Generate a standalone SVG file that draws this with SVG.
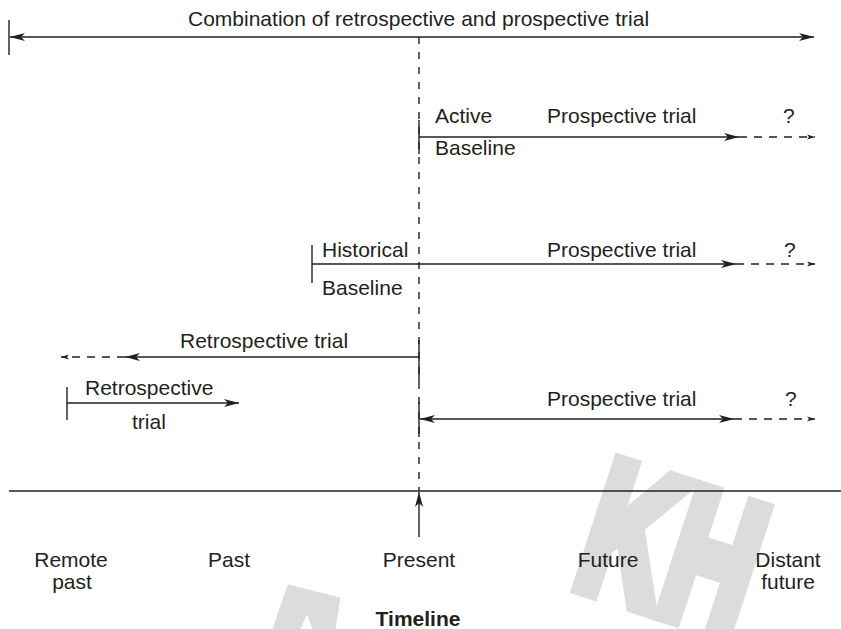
<svg xmlns="http://www.w3.org/2000/svg" width="841" height="629" viewBox="0 0 841 629">
<style>
.t{font-family:"Liberation Sans",Arial,Helvetica,sans-serif;font-size:21px;fill:#231f20}
.c{text-anchor:middle}
.b{font-weight:bold}
.ln{stroke:#231f20;stroke-width:1.4;fill:none}
.ds{stroke-dasharray:8 7}
.vd{stroke-dasharray:7 8}
.wm{fill:#dcdcdc;stroke:#dcdcdc;stroke-linejoin:miter}
</style>
<defs>
<marker id="ah" viewBox="0 0 15 10" refX="15" refY="5" markerWidth="15" markerHeight="10" markerUnits="userSpaceOnUse" orient="auto-start-reverse">
<path d="M0,1 L15,5 L0,9 L4,5 z" fill="#231f20"/>
</marker>
<marker id="ahs" viewBox="0 0 8 6" refX="8" refY="3" markerWidth="8" markerHeight="6" markerUnits="userSpaceOnUse" orient="auto">
<path d="M0,0.5 L8,3 L0,5.5 L2,3 z" fill="#231f20"/>
</marker>
</defs>
<rect width="841" height="629" fill="#ffffff"/>
<g id="watermark">
<text class="wm" transform="translate(570,584) rotate(18) scale(0.63,1)" font-family="Liberation Sans,Arial,sans-serif" font-weight="bold" font-size="190" stroke-width="17">KH</text>
<polygon class="wm" points="288,585 340,598 335,629 313,629 307,613 300,629 273,629"/>
</g>
<g id="connectors">
<line class="ln" x1="9" y1="20" x2="9" y2="55"/>
<line class="ln" x1="10" y1="37" x2="814" y2="37" marker-start="url(#ah)" marker-end="url(#ah)"/>
<line class="ln vd" x1="419" y1="37" x2="419" y2="491"/>
<line class="ln" x1="419" y1="120" x2="419" y2="154"/>
<line class="ln" x1="419" y1="137" x2="739" y2="137" marker-end="url(#ah)"/>
<line class="ln ds" x1="739" y1="137" x2="815" y2="137" marker-end="url(#ahs)"/>
<line class="ln" x1="312" y1="245" x2="312" y2="283"/>
<line class="ln" x1="312" y1="264" x2="736" y2="264" marker-end="url(#ah)"/>
<line class="ln ds" x1="736" y1="264" x2="815" y2="264" marker-end="url(#ahs)"/>
<line class="ln" x1="419" y1="340" x2="419" y2="382"/>
<line class="ln" x1="419" y1="357" x2="125" y2="357" marker-end="url(#ah)"/>
<line class="ln ds" x1="125" y1="357" x2="61" y2="357" marker-end="url(#ahs)"/>
<line class="ln" x1="67" y1="387" x2="67" y2="420"/>
<line class="ln" x1="67" y1="403" x2="239" y2="403" marker-end="url(#ah)"/>
<line class="ln" x1="419" y1="402" x2="419" y2="437"/>
<line class="ln" x1="420" y1="419" x2="734" y2="419" marker-start="url(#ah)" marker-end="url(#ah)"/>
<line class="ln ds" x1="734" y1="419" x2="815" y2="419" marker-end="url(#ahs)"/>
<line class="ln" x1="9" y1="491" x2="841" y2="491"/>
<line class="ln" x1="419" y1="537" x2="419" y2="492" marker-end="url(#ah)"/>
</g>
<g id="combination"><text class="t" x="188" y="26">Combination of retrospective and prospective trial</text></g>
<g id="active">
<text class="t" x="435" y="123">Active</text>
<text class="t" x="547" y="123">Prospective trial</text>
<text class="t" x="783" y="123">?</text>
<text class="t" x="435" y="155">Baseline</text>
</g>
<g id="historical">
<text class="t" x="322" y="257">Historical</text>
<text class="t" x="547" y="257">Prospective trial</text>
<text class="t" x="784" y="257">?</text>
<text class="t" x="322" y="295">Baseline</text>
</g>
<g id="retro1"><text class="t" x="180" y="348">Retrospective trial</text></g>
<g id="retro2">
<text class="t" x="85" y="395">Retrospective</text>
<text class="t" x="132" y="429">trial</text>
</g>
<g id="prosp3">
<text class="t" x="547" y="406">Prospective trial</text>
<text class="t" x="785" y="406">?</text>
</g>
<g id="timeline">
<text class="t c" x="71" y="567">Remote</text>
<text class="t c" x="72" y="589">past</text>
<text class="t c" x="229" y="567">Past</text>
<text class="t c" x="419" y="567">Present</text>
<text class="t c" x="608" y="567">Future</text>
<text class="t c" x="788" y="567">Distant</text>
<text class="t c" x="788" y="589">future</text>
<text class="t c b" x="418" y="626">Timeline</text>
</g>
</svg>
